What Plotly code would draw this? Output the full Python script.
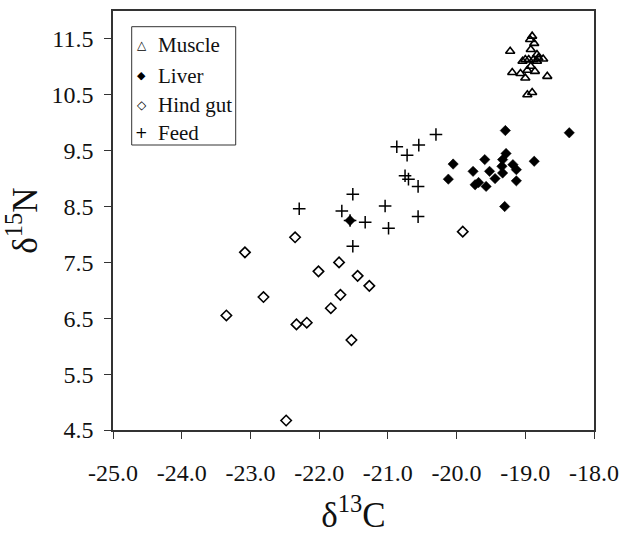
import plotly.graph_objects as go

# Muscle (open triangles)
muscle_x = [-18.90, -18.93, -18.87, -19.22, -18.92, -18.83, -18.74, -19.00, -18.95, -18.88,
            -18.81, -18.92, -18.97, -18.86, -19.19, -19.07, -19.00, -18.68, -18.97, -18.90,
            -19.04, -18.83]
muscle_y = [11.55, 11.49, 11.42, 11.28, 11.31, 11.22, 11.14, 11.13, 11.13, 11.13,
            11.16, 11.01, 10.94, 10.92, 10.90, 10.88, 10.80, 10.83, 10.50, 10.54,
            11.10, 11.10]

# Liver (filled diamonds)
liver_x = [-19.29, -18.36, -19.28, -20.05, -19.59, -19.33, -18.87, -19.76, -19.52, -19.34,
           -19.33, -19.18, -19.13, -20.12, -19.44, -19.68, -19.73, -19.57, -19.13, -19.30,
           -21.55]
liver_y = [9.86, 9.82, 9.45, 9.26, 9.34, 9.34, 9.31, 9.13, 9.13, 9.22,
           9.10, 9.25, 9.16, 8.99, 9.00, 8.93, 8.89, 8.86, 8.96, 8.50,
           8.25]

# Hind gut (open diamonds)
hind_x = [-19.91, -22.35, -23.08, -21.71, -22.01, -21.44, -21.27, -22.81, -21.69, -21.83,
          -23.35, -22.33, -22.18, -21.53, -22.48]
hind_y = [8.05, 7.95, 7.68, 7.50, 7.34, 7.26, 7.08, 6.88, 6.92, 6.68,
          6.55, 6.39, 6.42, 6.11, 4.67]

# Feed (plus)
feed_x = [-20.30, -20.87, -20.55, -20.72, -20.75, -20.70, -20.56, -21.51, -21.04, -22.29,
          -21.67, -21.33, -20.56, -20.99, -21.51, -21.55]
feed_y = [9.79, 9.57, 9.60, 9.42, 9.05, 8.99, 8.86, 8.72, 8.51, 8.46,
          8.42, 8.22, 8.32, 8.11, 7.79, 8.25]

series_names = ["Muscle", "Liver", "Hind gut", "Feed"]
legend_glyphs = ["△", "◆", "◇", "+"]

x_ticks = [-25.0, -24.0, -23.0, -22.0, -21.0, -20.0, -19.0, -18.0]
y_ticks = [4.5, 5.5, 6.5, 7.5, 8.5, 9.5, 10.5, 11.5]

FONT = "Liberation Serif"
TXT = "#111"
W, H = 631, 535
ML, MR, MT, MB = 113, 37, 11, 105
PW, PH = W - ML - MR, H - MT - MB


def px_to_paper(px, py):
    return (px - ML) / PW, (H - MB - py) / PH


fig = go.Figure()
fig.add_trace(go.Scatter(x=muscle_x, y=muscle_y, mode="markers", name=series_names[0],
                         marker=dict(symbol="triangle-up-open", size=8, color="black",
                                     line=dict(width=1.6, color="black"))))
fig.add_trace(go.Scatter(x=liver_x, y=liver_y, mode="markers", name=series_names[1],
                         marker=dict(symbol="diamond", size=8, color="black",
                                     line=dict(width=0.5, color="black"))))
fig.add_trace(go.Scatter(x=hind_x, y=hind_y, mode="markers", name=series_names[2],
                         marker=dict(symbol="diamond-open", size=8, color="black",
                                     line=dict(width=1.6, color="black"))))
fig.add_trace(go.Scatter(x=feed_x, y=feed_y, mode="markers", name=series_names[3],
                         marker=dict(symbol="cross-thin-open", size=9, color="black",
                                     line=dict(width=1.5, color="black"))))

# Custom legend box (compact, as in the reference)
bx0, by0 = px_to_paper(131.7, 145)
bx1, by1 = px_to_paper(235.7, 26.7)
fig.add_shape(type="rect", xref="paper", yref="paper", x0=bx0, y0=by0, x1=bx1, y1=by1,
              line=dict(color="#333", width=1), fillcolor="white", layer="above")
row_y = [45, 75.5, 105, 133]
glyph_sizes = [12, 11, 12, 15]
for name, glyph, gs, ry in zip(series_names, legend_glyphs, glyph_sizes, row_y):
    gx, gy = px_to_paper(141.7, ry)
    fig.add_annotation(xref="paper", yref="paper", x=gx, y=gy, text=glyph,
                       showarrow=False, xanchor="center", yanchor="middle",
                       font=dict(family="DejaVu Sans", size=gs, color="black"))
    tx, ty = px_to_paper(155.5, ry)
    fig.add_annotation(xref="paper", yref="paper", x=tx, y=ty, text=name,
                       showarrow=False, xanchor="left", yanchor="middle",
                       font=dict(family=FONT, size=21, color=TXT))

fig.update_layout(
    width=W, height=H,
    margin=dict(l=ML, r=MR, t=MT, b=MB, autoexpand=False),
    paper_bgcolor="white", plot_bgcolor="white",
    font=dict(family=FONT, color=TXT, size=21),
    showlegend=False,
    xaxis=dict(range=[-25, -18], tickvals=x_ticks,
               ticktext=[f"{v:.1f}" for v in x_ticks],
               ticks="outside", ticklen=7, tickwidth=1.2, tickcolor="#333",
               ticklabelstandoff=13, automargin=False,
               showline=True, linecolor="#333", linewidth=1.5, mirror=True,
               showgrid=False, zeroline=False,
               tickfont=dict(family=FONT, size=24, color=TXT),
               title=dict(text="δ<sup>13</sup>C", font=dict(family=FONT, size=35, color=TXT),
                          standoff=22)),
    yaxis=dict(range=[4.5, 12.0], tickvals=y_ticks,
               ticktext=[f"{v:.1f}" for v in y_ticks],
               ticks="outside", ticklen=7, tickwidth=1.2, tickcolor="#333",
               ticklabelstandoff=6, automargin=False,
               showline=True, linecolor="#333", linewidth=1.5, mirror=True,
               showgrid=False, zeroline=False,
               tickfont=dict(family=FONT, size=24, color=TXT),
               title=dict(text="δ<sup>15</sup>N", font=dict(family=FONT, size=35, color=TXT),
                          standoff=6)),
)

fig.write_html("out.html")
